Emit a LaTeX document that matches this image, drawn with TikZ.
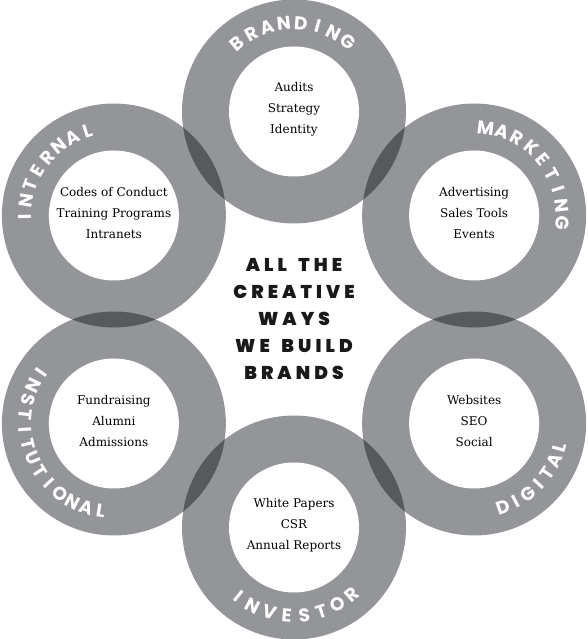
\documentclass[tikz,border=0pt]{standalone}
\usepackage{fontspec}
\setmainfont{DejaVu Serif}
\newfontfamily\ringfont{Poppins}
\newfontfamily\headfont[LetterSpace=22, WordSpace=1.6]{Poppins Black}
\definecolor{ringgray}{HTML}{939598}
\definecolor{lensgray}{HTML}{58595B}
\tikzset{
	ring/.style={fill=ringgray},
	lens/.style={fill=lensgray},
	hole/.style={fill=white},
	items/.style={align=center, yshift=2pt, font=\fontsize{12}{21}\selectfont},
	ringletter/.style={text=white, inner sep=0pt, font=\ringfont\bfseries\fontsize{18.5}{18.5}\selectfont},
	headline/.style={align=center, text=black!90, font=\headfont\fontsize{18.5}{27}\selectfont}
}
% centre, first angle, step, turn, letters
\newcommand\arcword[5]{%
	\foreach \ch [count=\k from 0] in {#5} {
		\pgfmathsetmacro\a{#2+\k*(#3)}
		\node[ringletter, rotate=\a+#4] at ([shift={(\a:88.5)}]#1) {\ch};
	}
}

\begin{document}
\begin{tikzpicture}[x=1pt, y=1pt]
	\useasboundingbox (0,0) rectangle (588,639);
	\coordinate (hub) at (294,319.5);
	\foreach \name/\ang in {branding/90, marketing/30, digital/-30, investor/-90, institutional/-150, internal/150}
		\coordinate (\name) at ([shift={(\ang:208)}]hub);

	\foreach \name in {branding, marketing, digital, investor, institutional, internal}
		\fill[ring] (\name) circle (112);
	\foreach \one/\two in {branding/marketing, marketing/digital, digital/investor, investor/institutional, institutional/internal, internal/branding} {
		\begin{scope}
			\clip (\one) circle (112);
			\fill[lens] (\two) circle (112);
		\end{scope}
	}
	\foreach \name in {branding, marketing, digital, investor, institutional, internal}
		\fill[hole] (\name) circle (65);

	\node[items] (brandingitems) at (branding) {Audits\\Strategy\\Identity};
	\node[items] (marketingitems) at (marketing) {Advertising\\Sales Tools\\Events};
	\node[items] (digitalitems) at (digital) {Websites\\SEO\\Social};
	\node[items] (investoritems) at (investor) {White Papers\\CSR\\Annual Reports};
	\node[items] (institutionalitems) at (institutional) {Fundraising\\Alumni\\Admissions};
	\node[items] (internalitems) at (internal) {Codes of Conduct\\Training Programs\\Intranets};

	\node[headline] (title) at (hub) {ALL THE\\CREATIVE\\WAYS\\WE BUILD\\BRANDS};

	\arcword{branding}{130}{-11.1}{-90}{B,R,A,N,D,I,N,G}
	\arcword{marketing}{82.6}{-10.9}{-90}{M,A,R,K,E,T,I,N,G}
	\arcword{internal}{181}{-10.5}{-90}{I,N,T,E,R,N,A,L}
	\arcword{institutional}{145}{9.7}{90}{I,N,S,T,I,T,U,T,I,O,N,A,L}
	\arcword{investor}{231}{11.4}{90}{I,N,V,E,S,T,O,R}
	\arcword{digital}{289}{9.25}{90}{D,I,G,I,T,A,L}
\end{tikzpicture}
\end{document}
